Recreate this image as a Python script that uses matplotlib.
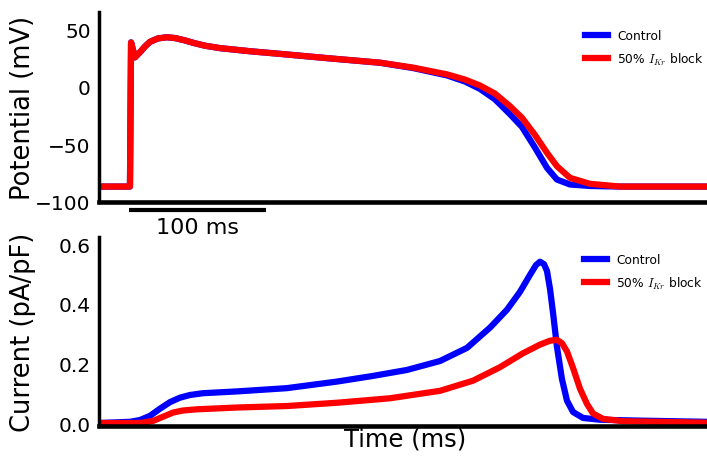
import matplotlib
matplotlib.use("Agg")
import matplotlib.pyplot as plt

plt.rcParams["font.family"] = ["DejaVu Sans"]
plt.rcParams["mathtext.fontset"] = "cm"

# action potential (ms, mV)
ap_time = [-23, 0, 0.8, 3.6, 7.3, 11, 14.6, 20.4, 27, 33, 40, 47, 55, 66, 88, 110, 146, 182.5,
           206.6, 231.4, 244.5, 255.5, 266.4, 277.4, 286.1, 295.6, 304.4, 311.7, 321.2, 335.8,
           357.7, 421.2]
ap_control = [-87, -87, 38.5, 25.5, 30, 35, 39, 42, 43, 42.3, 40.3, 37.9, 35.6, 33.5, 30.8, 28.5,
              24.6, 20.8, 16.2, 9.8, 4.5, -2, -11, -24, -35, -53, -70.7, -80.9, -85.2, -86.5,
              -87, -87]
ap_block = [-87, -87, 38.5, 25.5, 30, 35, 39, 42, 43, 42.3, 40.3, 37.9, 35.6, 33.5, 30.8, 28.5,
            24.6, 20.9, 16.6, 10.7, 6.2, 1, -6, -17, -27, -42, -57.6, -69.3, -79.4, -84.6,
            -87, -87]

# IKr current (ms, pA/pF), bottom panel
ikr_time_control = [-23, 0, 7.3, 14.6, 21.9, 29.2, 36.5, 43.8, 53.3, 78.1, 114.6, 151.1, 177.4,
                    202.2, 226.3, 246, 262.8, 275.2, 284.7, 292, 296.4, 299.3, 302.2, 304.4,
                    306.6, 308.8, 311.7, 315.3, 319, 323.4, 330.7, 343.1, 372.3, 421.2]
ikr_control = [0, 0.004, 0.01, 0.024, 0.048, 0.07, 0.085, 0.094, 0.1, 0.106, 0.117, 0.139, 0.158,
               0.178, 0.208, 0.252, 0.32, 0.38, 0.44, 0.497, 0.53, 0.541, 0.533, 0.51,
               0.45, 0.37, 0.255, 0.148, 0.075, 0.037, 0.017, 0.011, 0.008, 0.004]
ikr_time_block = [-23, 7.3, 16.8, 24.1, 31.4, 38.7, 48.9, 78.1, 114.6, 151.1, 189.8, 226.3, 250.4,
                  270, 286.9, 299.3, 306.6, 311.7, 315.3, 319, 323.4, 328.5, 333.6, 338,
                  345.3, 359.9, 421.2]
ikr_block = [0, 0, 0.007, 0.021, 0.035, 0.042, 0.046, 0.052, 0.057, 0.068, 0.083, 0.108, 0.142,
             0.187, 0.234, 0.263, 0.276, 0.279, 0.268, 0.24, 0.185, 0.115, 0.064, 0.032,
             0.014, 0.006, 0.001]

labels = ["Control", "50% $I_{Kr}$ block"]
v_ticks = [-100, -50, 0, 50]
i_ticks = [0.0, 0.2, 0.4, 0.6]

W, H = 707, 460


def style_axes(ax, ticks):
    ax.spines["top"].set_visible(False)
    ax.spines["right"].set_visible(False)
    ax.spines["left"].set_linewidth(2.5)
    ax.spines["bottom"].set_linewidth(3.3)
    ax.set_yticks(ticks)
    ax.set_xticks([])
    ax.tick_params(axis="y", length=0, pad=6, labelsize=14.5)


def add_legend(ax, x, y):
    ax.legend(labels, loc="upper left", bbox_to_anchor=(x / W, 1 - y / H),
              bbox_transform=ax.figure.transFigure, frameon=False, fontsize=8.8,
              borderaxespad=0, borderpad=0, handlelength=1.85, handletextpad=0.8,
              labelspacing=0.7)


def main():
    fig = plt.figure(figsize=(W / 100, H / 100), dpi=100)
    ax1 = fig.add_axes([99 / W, 1 - 202.5 / H, 1 - 99 / W, 189.5 / H])
    ax2 = fig.add_axes([99 / W, 1 - 427 / H, 1 - 99 / W, 189 / H], sharex=ax1)

    # top: membrane potential
    ax1.plot(ap_time, ap_control, color="b", lw=4.5)
    ax1.plot(ap_time, ap_block, color="r", lw=4.5)
    ax1.set_xlim(-22.6, 421.2)
    ax1.set_ylim(-100, 65)
    style_axes(ax1, v_ticks)
    ax1.set_ylabel("Potential (mV)", fontsize=18.5)
    ax1.yaxis.set_label_coords((23 - 99) / 608, 0.5)
    ax1.yaxis.label.set_verticalalignment("center")
    add_legend(ax1, 585, 30)

    # 100 ms scale bar
    ax1.plot([-0.5, 99.5], [-107, -107], color="k", lw=3, solid_capstyle="butt", clip_on=False)
    ax1.text(49.5, -122, "100 ms", ha="center", va="center", fontsize=16)

    # bottom: IKr
    ax2.plot(ikr_time_control, ikr_control, color="b", lw=4.5)
    ax2.plot(ikr_time_block, ikr_block, color="r", lw=4.5)
    ax2.set_ylim(-0.01, 0.624)
    style_axes(ax2, i_ticks)
    ax2.set_yticklabels(["%.1f" % v for v in i_ticks])
    ax2.set_ylabel("Current (pA/pF)", fontsize=18.5)
    ax2.yaxis.set_label_coords((23 - 99) / 608, 0.5)
    ax2.yaxis.label.set_verticalalignment("center")
    ax2.set_xlabel("Time (ms)", fontsize=17.5)
    ax2.xaxis.set_label_coords((405 - 99) / 608, (427 - 440) / 189)
    ax2.xaxis.label.set_verticalalignment("center")
    add_legend(ax2, 584, 254)

    fig.savefig("out.png", dpi=100)


if __name__ == "__main__":
    main()
